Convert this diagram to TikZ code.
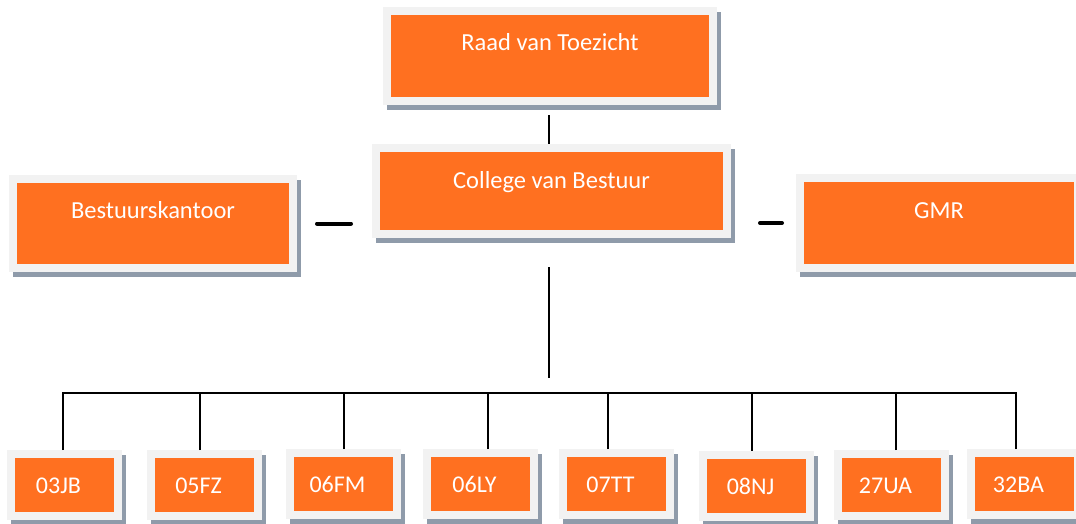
\documentclass[tikz,border=0pt]{standalone}
\usepackage{fontspec}
\setmainfont{Carlito}
\definecolor{orgfill}{HTML}{FF7020}
\definecolor{framegray}{HTML}{F2F2F2}
\definecolor{shadegray}{HTML}{8F9BAA}

\begin{document}
\begin{tikzpicture}[x=1pt,y=-1pt,
		orgbox/.style={fill=orgfill,draw=framegray,line width=8pt,text=white,
			font=\fontsize{24.5}{28}\selectfont,inner sep=0pt,
			preaction={fill=shadegray,draw=shadegray,line width=8pt,
				transform canvas={shift={(3.5pt,-5pt)}}}},
		topbox/.style={orgbox,text height=8pt,text depth=#1},
		schoolbox/.style={orgbox,minimum width=107pt,minimum height=62pt,
			font=\fontsize{24}{28}\selectfont,
			text height=19pt,text depth=2pt,execute at begin node={\kern-12pt}},
		link/.style={line width=1.6pt},
		dashlink/.style={line width=4pt,line cap=round}]
		\useasboundingbox (0,0) rectangle (1076,523);
		\node[topbox=20pt,minimum width=326pt,minimum height=90pt] (raad) at (550,56) {Raad van Toezicht};
		\node[topbox=14pt,minimum width=351pt,minimum height=86pt] (cvb) at (551.5,191) {College van Bestuur};
		\node[topbox=18pt,minimum width=280pt,minimum height=89pt] (kantoor) at (153,223.5) {Bestuurskantoor};
		\node[topbox=18pt,minimum width=278pt,minimum height=90pt] (gmr) at (939,223) {GMR};
		\node[schoolbox] (jb03) at (64.5,485) {03JB};
		\node[schoolbox] (fz05) at (204.5,485) {05FZ};
		\node[schoolbox] (fm06) at (343.5,484) {06FM};
		\node[schoolbox] (ly06) at (480.5,484) {06LY};
		\node[schoolbox] (tt07) at (616.5,484) {07TT};
		\node[schoolbox] (nj08) at (756.5,485.5) {08NJ};
		\node[schoolbox] (ua27) at (891.5,485) {27UA};
		\node[schoolbox] (ba32) at (1024.5,484) {32BA};
		\coordinate (bus) at (548.7,393);
		\draw[link] ([yshift=-10pt]raad.south -| bus) -- (cvb.north -| bus);
		\draw[link] ([yshift=-29pt]cvb.south -| bus) -- ([yshift=15pt]bus);
		\foreach \s/\dx in {jb03/-1.5,fz05/-4.5,fm06/0.5,ly06/7.5,tt07/-8.5,nj08/-4.5,ua27/4.5,ba32/-8.5}
			\draw[link] ([xshift=\dx pt]\s.north) |- (bus);
		\draw[dashlink,shorten <=20pt,shorten >=21pt] (kantoor.east) -- (kantoor.east -| cvb.west);
		\draw[dashlink,shorten <=29pt,shorten >=14pt] (gmr.west -| cvb.east) -- (gmr.west);
	\end{tikzpicture}
\end{document}
